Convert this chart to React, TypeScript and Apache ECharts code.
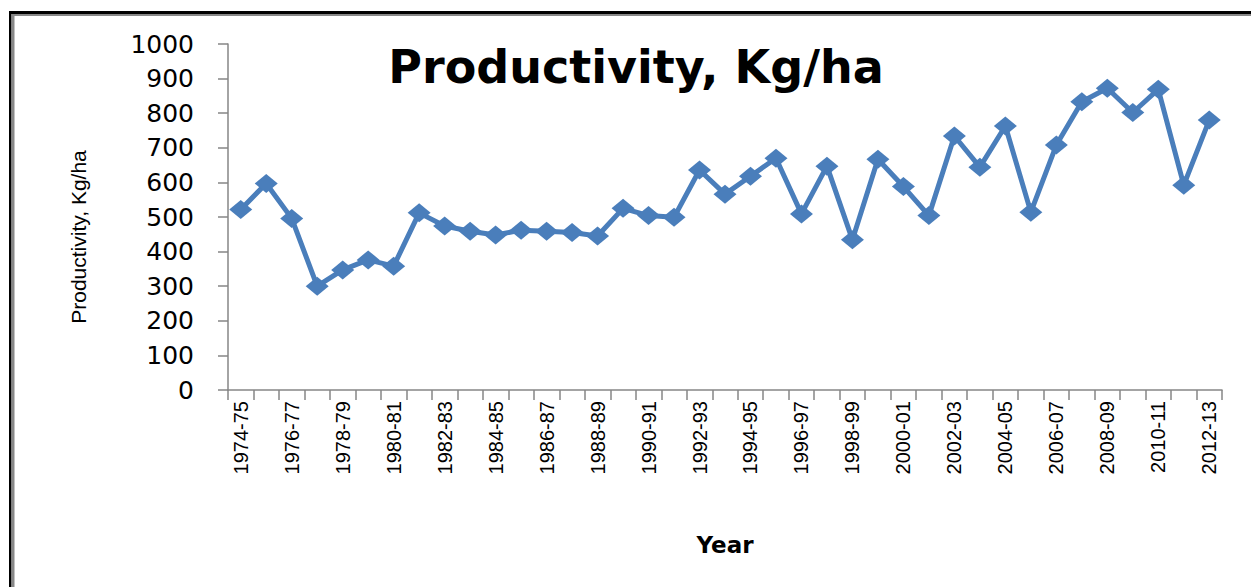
import React, { useEffect, useRef } from "react";
import * as echarts from "echarts";

const categories = [
  "1974-75", "1975-76", "1976-77", "1977-78", "1978-79", "1979-80", "1980-81",
  "1981-82", "1982-83", "1983-84", "1984-85", "1985-86", "1986-87", "1987-88",
  "1988-89", "1989-90", "1990-91", "1991-92", "1992-93", "1993-94", "1994-95",
  "1995-96", "1996-97", "1997-98", "1998-99", "1999-00", "2000-01", "2001-02",
  "2002-03", "2003-04", "2004-05", "2005-06", "2006-07", "2007-08", "2008-09",
  "2009-10", "2010-11", "2011-12", "2012-13",
];

const productivity = [
  522, 597, 496, 300, 347, 376, 358, 512, 474, 459, 448, 462, 459, 455, 445,
  525, 504, 499, 636, 566, 618, 670, 509, 647, 434, 667, 588, 504, 734, 644,
  763, 514, 708, 833, 872, 802, 869, 592, 780,
];

const yTicks = { min: 0, max: 1000, interval: 100 };

const titleText = "Productivity, Kg/ha";
const yAxisTitle = "Productivity, Kg/ha";
const xAxisTitle = "Year";

export default function App() {
  const ref = useRef<HTMLDivElement>(null);

  useEffect(() => {
    if (!ref.current) return;
    const chart = echarts.init(ref.current, undefined, { renderer: "svg" });
    chart.setOption({
      animation: false,
      backgroundColor: "#ffffff",
      grid: { left: 228, right: 29, top: 44, bottom: 197, containLabel: false },
      xAxis: {
        type: "category",
        data: categories,
        boundaryGap: true,
        axisLine: { show: true, lineStyle: { color: "#868686", width: 1.5 } },
        axisTick: { show: true, interval: 0, length: 10, lineStyle: { color: "#868686", width: 1.5 } },
        axisLabel: {
          interval: 1,
          rotate: 90,
          margin: 11,
          color: "#000000",
          fontFamily: "Liberation Sans",
          fontSize: 20,
        },
        splitLine: { show: false },
      },
      yAxis: {
        type: "value",
        min: yTicks.min,
        max: yTicks.max,
        interval: yTicks.interval,
        axisLine: { show: true, lineStyle: { color: "#868686", width: 1.5 } },
        axisTick: { show: true, length: 10, lineStyle: { color: "#868686", width: 1.5 } },
        axisLabel: {
          margin: 34,
          color: "#000000",
          fontFamily: "DejaVu Sans",
          fontSize: 25,
          formatter: (v: number) => String(v),
        },
        splitLine: { show: false },
      },
      series: [
        {
          type: "line",
          data: productivity,
          symbol: "diamond",
          symbolSize: [23, 19],
          showAllSymbol: true,
          lineStyle: { color: "#4A7EBB", width: 5 },
          itemStyle: { color: "#4A7EBB" },
        },
      ],
      graphic: [
        { type: "rect", shape: { x: 9, y: 11, width: 2.5, height: 600 }, style: { fill: "#000000" } },
        { type: "rect", shape: { x: 9, y: 11, width: 1300, height: 3 }, style: { fill: "#000000" } },
        { type: "rect", shape: { x: 12, y: 14, width: 2.5, height: 600 }, style: { fill: "#888888" } },
        { type: "rect", shape: { x: 12, y: 14, width: 1300, height: 2 }, style: { fill: "#888888" } },
        {
          type: "text",
          x: 636,
          y: 67,
          style: {
            text: titleText,
            fontFamily: "DejaVu Sans",
            fontWeight: "bold",
            fontSize: 46,
            fill: "#000000",
            textAlign: "center",
            textVerticalAlign: "middle",
          },
        },
        {
          type: "text",
          x: 78,
          y: 237,
          rotation: Math.PI / 2,
          style: {
            text: yAxisTitle,
            fontFamily: "Liberation Sans",
            fontSize: 21,
            fill: "#000000",
            textAlign: "center",
            textVerticalAlign: "middle",
          },
        },
        {
          type: "text",
          x: 725,
          y: 545,
          style: {
            text: xAxisTitle,
            fontFamily: "DejaVu Sans",
            fontWeight: "bold",
            fontSize: 23,
            fill: "#000000",
            textAlign: "center",
            textVerticalAlign: "middle",
          },
        },
      ],
    });
    return () => chart.dispose();
  }, []);

  return (
    <div
      ref={ref}
      style={{ position: "fixed", left: 0, top: 0, width: 1251, height: 587 }}
    />
  );
}
